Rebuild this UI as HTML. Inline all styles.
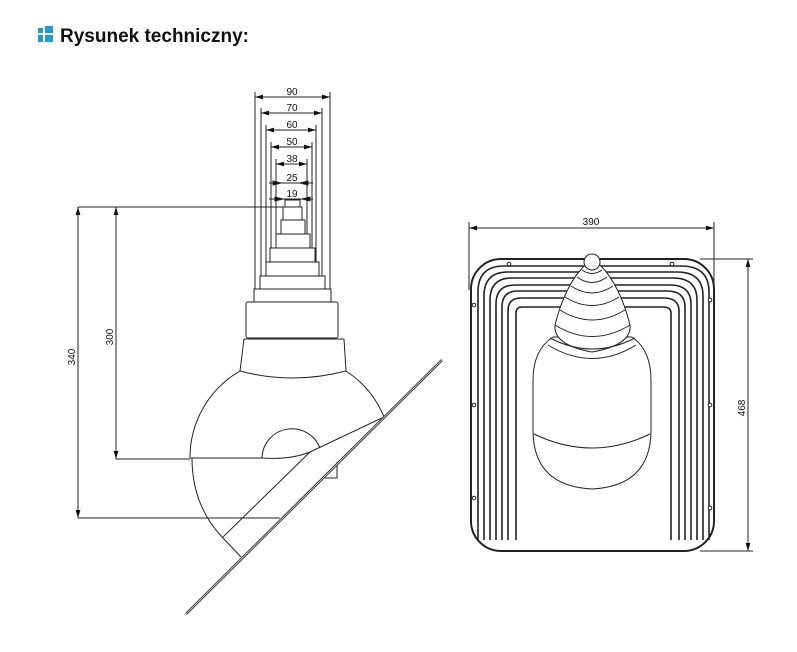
<!DOCTYPE html>
<html><head><meta charset="utf-8"><style>
html,body{margin:0;padding:0;background:#fff;width:797px;height:652px;overflow:hidden}
svg{display:block}
</style></head><body>
<svg width="797" height="652" viewBox="0 0 797 652" xmlns="http://www.w3.org/2000/svg">
<defs>
<marker id="a" viewBox="0 0 10 6" refX="10" refY="3" markerWidth="8" markerHeight="5" orient="auto-start-reverse" markerUnits="userSpaceOnUse"><path d="M0,0 L10,3 L0,6z" fill="#111"/></marker>
</defs>
<rect x="38" y="28" width="5" height="5" fill="#1e9ad6"/>
<rect x="45" y="26" width="8" height="7" fill="#1e9ad6"/>
<rect x="38" y="35" width="5" height="7" fill="#1e9ad6"/>
<rect x="45" y="35" width="8" height="7" fill="#1e9ad6"/>
<text x="60" y="42" font-family="Liberation Sans, sans-serif" font-weight="bold" font-size="19" fill="#111">Rysunek techniczny:</text>

<g fill="none" stroke="#222" stroke-width="1">
<path d="M255,92V289 M330,92V289 M261,108V276 M322,108V276 M266,125V262 M316,125V262 M271,142V248 M312,142V248 M276,159V234 M307,159V234"/>
<line x1="255" y1="97" x2="330" y2="97" marker-start="url(#a)" marker-end="url(#a)"/>
<line x1="261" y1="113" x2="322" y2="113" marker-start="url(#a)" marker-end="url(#a)"/>
<line x1="266" y1="130" x2="316" y2="130" marker-start="url(#a)" marker-end="url(#a)"/>
<line x1="271" y1="147" x2="312" y2="147" marker-start="url(#a)" marker-end="url(#a)"/>
<line x1="276" y1="164" x2="307" y2="164" marker-start="url(#a)" marker-end="url(#a)"/>
<path d="M269,183H313 M269,199H313"/>
<polygon points="281,183 273,181 273,185" fill="#111"/>
<polygon points="300,183 308,181 308,185" fill="#111"/>
<polygon points="283,199 275,197 275,201" fill="#111"/>
<polygon points="302,199 310,197 310,201" fill="#111"/>
<rect x="285" y="200" width="15" height="7"/>
<rect x="283" y="207" width="19" height="13"/>
<rect x="281" y="220" width="24" height="14"/>
<rect x="276" y="234" width="34" height="14"/>
<rect x="270" y="248" width="45" height="14"/>
<rect x="266" y="262" width="53" height="14"/>
<rect x="260" y="276" width="65" height="13"/>
<rect x="254" y="289" width="77" height="13"/>
<rect x="246" y="302" width="92" height="36" rx="2"/>
<path d="M244,339H344 M244,339L240,371 M344,339L346,371 M240,371Q292,385 346,371"/>
<path d="M240,371A100,100 0 0 0 190,458"/>
<path d="M346,371A100,100 0 0 1 384,417"/>
<path d="M192,458Q192,505 222,537L241,557"/>
<path d="M262,458A30,30 0 0 1 320,448"/>
<path d="M190,458H262Q290,460 310,452L384,417"/>
<path d="M310,452L223,537"/>
<path d="M337,462V478H325"/>
<path d="M186,614L442,360" stroke-width="2.5"/>
<path d="M186,614L442,360" stroke="#fff" stroke-width="0.7"/>
<path d="M78,207H285 M78,518H280 M116,459H190"/>
<line x1="78" y1="207" x2="78" y2="518" marker-start="url(#a)" marker-end="url(#a)"/>
<line x1="116" y1="207" x2="116" y2="459" marker-start="url(#a)" marker-end="url(#a)"/>

<path d="M469,222V290 M714,222V285 M700,259H753 M700,551H753"/>
<line x1="469" y1="228" x2="714" y2="228" marker-start="url(#a)" marker-end="url(#a)"/>
<line x1="748" y1="259" x2="748" y2="551" marker-start="url(#a)" marker-end="url(#a)"/>
<rect x="471" y="259" width="243" height="292" rx="30" stroke-width="2"/>
<g stroke-width="1.6">
<path d="M478,540V292Q478,266 504,266H681Q709,266 709,292V540"/>
<path d="M484,540V296Q484,272 508,272H677Q703,272 703,296V540"/>
<path d="M490,540V300Q490,278 512,278H673Q697,278 697,300V540"/>
<path d="M496,540V304Q496,285 515,285H670Q691,285 691,304V540"/>
<path d="M502,540V307Q502,291 518,291H667Q685,291 685,307V540"/>
<path d="M508,540V311Q508,298 521,298H664Q679,298 679,311V540"/>
<path d="M516,540V313Q516,307 522,307H663Q671,307 671,313V540"/>
</g>
<g fill="#fff">
<circle cx="509" cy="264" r="1.8"/><circle cx="672" cy="264" r="1.8"/>
<circle cx="474" cy="305" r="1.8"/><circle cx="474" cy="405" r="1.8"/><circle cx="474" cy="498" r="1.8"/>
<circle cx="710" cy="300" r="1.8"/><circle cx="710" cy="405" r="1.8"/><circle cx="710" cy="508" r="1.8"/>
<path d="M553,337Q533,350 533,380V430Q533,486 592,489Q651,486 651,430V380Q651,350 632,337Z"/>
<path d="M534,434Q592,462 650,434" fill="none"/>
<path d="M548,345Q592,372 636,345" fill="none"/>
<path d="M555,325Q565,285 585,265H600Q620,285 630,325Q632,345 592,352Q553,345 555,325Z"/>
</g>
<path d="M555,325Q592,348 630,325 M560,310Q592,330 625,310 M565,297Q592,314 619,297 M571,286Q592,300 613,286 M577,277Q592,288 607,277 M582,270Q592,277 602,270"/>
<path d="M550,338Q592,360 635,338" />
<rect x="584" y="254" width="16" height="16" rx="8" fill="#fff"/>
</g>
<g font-family="Liberation Sans, sans-serif" font-size="10" fill="#111" text-anchor="middle">
<text x="292" y="95">90</text>
<text x="292" y="111">70</text>
<text x="292" y="128">60</text>
<text x="292" y="145">50</text>
<text x="292" y="162">38</text>
<text x="292" y="181">25</text>
<text x="292" y="197">19</text>
<text x="591" y="225">390</text>
<text transform="translate(75,357) rotate(-90)">340</text>
<text transform="translate(113,337) rotate(-90)">300</text>
<text transform="translate(745,408) rotate(-90)">468</text>
</g>
</svg>
</body></html>
